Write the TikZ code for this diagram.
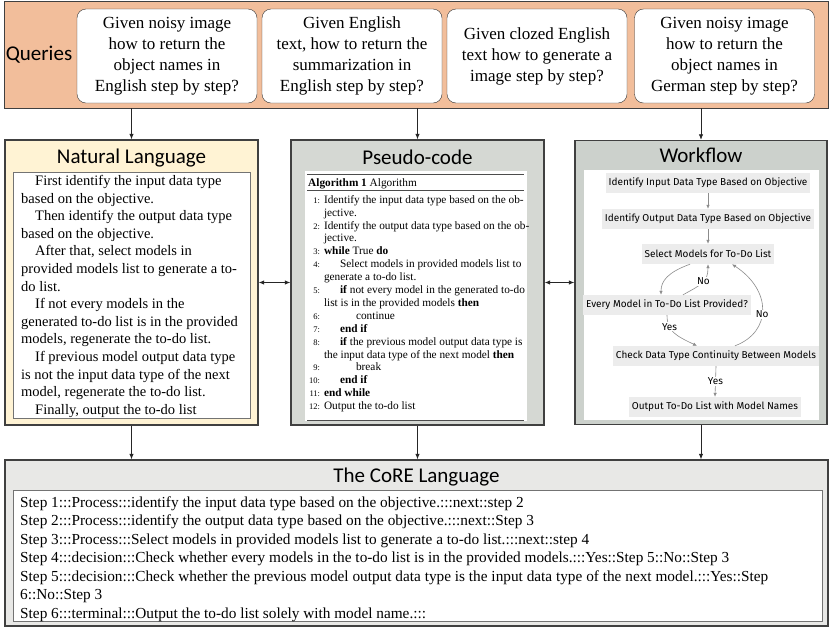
\documentclass[tikz,border=0pt]{standalone}
\usepackage{fontspec}
\setmainfont{Liberation Serif}
\newfontfamily\calibrifont{Carlito}
\newfontfamily\flowfont{Fira Sans}
\usetikzlibrary{arrows.meta,calc}

\definecolor{queryband}{RGB}{242,190,155}
\definecolor{nlfill}{RGB}{255,243,212}
\definecolor{pcfill}{RGB}{213,216,211}
\definecolor{wffill}{RGB}{204,209,204}
\definecolor{corefill}{RGB}{232,232,230}
\definecolor{flowfill}{RGB}{236,236,236}

\newcommand{\algnum}[1]{{\fontsize{8.5}{9}\selectfont #1:}}
\newcommand{\ind}{\hspace*{16pt}}

\begin{document}
\begin{tikzpicture}[
        x=1pt, y=-1pt,
        band/.style={
            draw=black!75,
            fill=queryband,
            line width=0.8pt,
            inner sep=0pt
        },
        query/.style={
            draw=black!80,
            fill=white,
            rounded corners=9pt,
            minimum width=180pt,
            minimum height=94pt,
            align=center,
            inner sep=2pt,
            font=\fontsize{17}{21}\selectfont
        },
        panel/.style={draw=black!75, line width=1.4pt, inner sep=0pt},
        heading/.style={font=\calibrifont\fontsize{21}{24}\selectfont, inner sep=0pt},
        textbox/.style={draw=black!55, fill=white, line width=0.8pt, inner sep=0pt},
        plainbox/.style={fill=white, inner sep=0pt},
        flowbox/.style={
            fill=flowfill,
            font=\flowfont\fontsize{10}{12}\selectfont,
            inner xsep=3pt,
            inner ysep=0pt,
            minimum height=20pt
        },
        flowedge/.style={-{Latex[length=4pt,width=3.5pt]}, draw=black!45, line width=0.6pt},
        flowlabel/.style={fill=white, font=\flowfont\fontsize{10}{12}\selectfont, inner sep=1pt},
        arrow/.style={-{Latex[length=5.5pt,width=4.5pt]}, draw=black!85, line width=0.8pt},
        twoway/.style={{Latex[length=5.5pt,width=4.5pt]}-{Latex[length=5.5pt,width=4.5pt]}, draw=black!85, line width=0.8pt}
    ]
        \useasboundingbox (0,0) rectangle (830,630);

        % Queries
        \node[band, minimum width=824pt, minimum height=107pt] (queries) at (416,54.5) {};
        \node[heading] (querylabel) at (39,55) {Queries};
        \node[query] (q1) at (167,56) {Given noisy image\\how to return the\\object names in\\English step by step?};
        \node[query] (q2) at (352,56) {Given English\\text, how to return the\\summarization in\\English step by step?};
        \node[query] (q3) at (537,56) {Given clozed English\\text how to generate a\\image step by step?};
        \node[query] (q4) at (724.5,56) {Given noisy image\\how to return the\\object names in\\German step by step?};

        % Panels
        \node[panel, fill=nlfill, minimum width=253pt, minimum height=285pt] (nl) at (131.5,282.5) {};
        \node[panel, fill=pcfill, minimum width=253pt, minimum height=285pt] (pc) at (417.5,282.5) {};
        \node[panel, fill=wffill, minimum width=252pt, minimum height=284pt] (wf) at (701,282.5) {};
        \node[panel, fill=corefill, minimum width=823pt, minimum height=166pt] (core) at (416.5,543) {};

        \node[heading] (nltitle) at (131.5,158) {Natural Language};
        \node[heading] (pctitle) at (417.5,157) {Pseudo-code};
        \node[heading] (wftitle) at (701,155) {Workflow};
        \node[heading] (coretitle) at (416.5,477) {The CoRE Language};

        \node[textbox, minimum width=237pt, minimum height=246pt] (nlbox) at (131.5,295) {};
        \node[plainbox, minimum width=222pt, minimum height=250pt] (pcbox) at (416,296) {};
        \node[plainbox, minimum width=235pt, minimum height=250pt] (wfbox) at (701.5,295) {};
        \node[textbox, minimum width=809pt, minimum height=131pt] (corebox) at (417.5,555.5) {};

        % Natural language text
        \node[anchor=north west, inner sep=0pt, align=left, font=\fontsize{14.5}{17.6}\selectfont] (nltext) at (21,173) {%
            \strut\hspace*{14pt}First identify the input data type\\
            based on the objective.\\
            \hspace*{14pt}Then identify the output data type\\
            based on the objective.\\
            \hspace*{14pt}After that, select models in\\
            provided models list to generate a to-\\
            do list.\\
            \hspace*{14pt}If not every models in the\\
            generated to-do list is in the provided\\
            models, regenerate the to-do list.\\
            \hspace*{14pt}If previous model output data type\\
            is not the input data type of the next\\
            model, regenerate the to-do list.\\
            \hspace*{14pt}Finally, output the to-do list};

        % Pseudo-code text
        \draw[black!70, line width=1.2pt] (307,174.5) -- (524,174.5);
        \node[anchor=base west, inner sep=0pt, font=\fontsize{11.3}{13}\selectfont] (pccap) at (308,186) {\textbf{Algorithm 1} Algorithm};
        \draw[black!70, line width=0.5pt] (307,190.5) -- (524,190.5);
        \node[anchor=north west, inner sep=0pt, font=\fontsize{11.3}{12.9}\selectfont] (pcbody) at (309,194) {%
            \begin{tabular}{@{}r@{\hspace{4pt}}l@{}}
                \algnum{1} & Identify the input data type based on the ob-\\
                & jective.\\
                \algnum{2} & Identify the output data type based on the ob-\\
                & jective.\\
                \algnum{3} & \textbf{while} True \textbf{do}\\
                \algnum{4} & \ind Select models in provided models list to\\
                & generate a to-do list.\\
                \algnum{5} & \ind\textbf{if} not every model in the generated to-do\\
                & list is in the provided models \textbf{then}\\
                \algnum{6} & \ind\ind continue\\
                \algnum{7} & \ind\textbf{end if}\\
                \algnum{8} & \ind\textbf{if} the previous model output data type is\\
                & the input data type of the next model \textbf{then}\\
                \algnum{9} & \ind\ind break\\
                \algnum{10} & \ind\textbf{end if}\\
                \algnum{11} & \textbf{end while}\\
                \algnum{12} & Output the to-do list
            \end{tabular}};
        \draw[black!70, line width=1pt] (307,420) -- (524,420);

        % Workflow nodes
        \node[flowbox] (n1) at (708,183) {Identify Input Data Type Based on Objective};
        \node[flowbox] (n2) at (708,219) {Identify Output Data Type Based on Objective};
        \node[flowbox] (n3) at (708,254) {Select Models for To-Do List};
        \node[flowbox] (n4) at (667,305) {Every Model in To-Do List Provided?};
        \node[flowbox] (n5) at (716,356) {Check Data Type Continuity Between Models};
        \node[flowbox] (n6) at (715,407) {Output To-Do List with Model Names};

        % Workflow lines
        \draw[flowedge] (n1.south) -- (n2.north);
        \draw[flowedge] (n2.south) -- (n3.north);
        \draw[flowedge] ($(n3.south)+(-18,0)$) .. controls ($(n3.south)+(-40,8)$) and ($(n4.north)+(-6,-14)$) .. ($(n4.north)+(-6,0)$);
        \draw[flowedge] ($(n4.north)+(16,0)$) .. controls ($(n4.north)+(34,-10)$) and ($(n3.south)+(0,18)$) .. (n3.south) node[flowlabel, pos=0.55] {No};
        \draw[flowedge] (n4.south) .. controls ($(n4.south)+(0,16)$) and ($(n5.north)+(-40,-10)$) .. ($(n5.north)+(-19,0)$) node[flowlabel, pos=0.3] {Yes};
        \draw[flowedge] ($(n5.north)+(19,0)$) .. controls ($(n5.north)+(56,-14)$) and ($(n3.south)+(64,26)$) .. ($(n3.south)+(24,0)$) node[flowlabel, pos=0.45] {No};
        \draw[flowedge] (n5.south) -- (n6.north) node[flowlabel, midway] {Yes};

        % CoRE text
        \node[anchor=north west, inner sep=0pt, align=left, font=\fontsize{15.3}{18.5}\selectfont] (coretext) at (20,494) {%
            \strut Step 1:::Process:::identify the input data type based on the objective.:::next::step 2\\
            Step 2:::Process:::identify the output data type based on the objective.:::next::Step 3\\
            Step 3:::Process:::Select models in provided models list to generate a to-do list.:::next::step 4\\
            Step 4:::decision:::Check whether every models in the to-do list is in the provided models.:::Yes::Step 5::No::Step 3\\
            Step 5:::decision:::Check whether the previous model output data type is the input data type of the next model.:::Yes::Step\\
            6::No::Step 3\\
            Step 6:::terminal:::Output the to-do list solely with model name.:::};

        % Arrows between parts
        \draw[arrow] (queries.south -| nl.north) -- (nl.north);
        \draw[arrow] (queries.south -| pc.north) -- (pc.north);
        \draw[arrow] (queries.south -| wf.north) -- (wf.north);
        \draw[twoway] (nl.east) -- (pc.west);
        \draw[twoway] (pc.east) -- (wf.west);
        \draw[arrow] (nl.south) -- (nl.south |- core.north);
        \draw[arrow] (pc.south) -- (pc.south |- core.north);
        \draw[arrow] (wf.south) -- (wf.south |- core.north);

    \end{tikzpicture}
\end{document}
